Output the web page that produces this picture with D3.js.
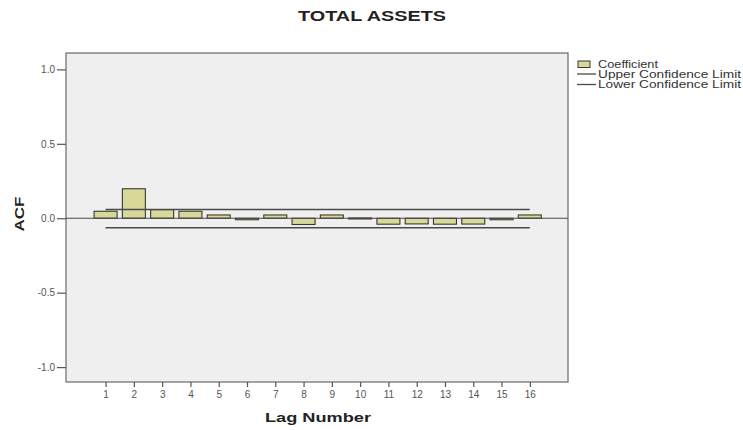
<!DOCTYPE html>
<html>
<head>
<meta charset="utf-8">
<script src="https://cdn.jsdelivr.net/npm/d3@7"></script>
<style>
  html, body { margin: 0; padding: 0; background: #ffffff; }
  svg { display: block; font-family: "Liberation Sans", Arial, sans-serif; }
</style>
</head>
<body>
<svg id="chart" width="743" height="430"></svg>
<script>
// Autocorrelation function of TOTAL ASSETS, lags 1-16
const lags = [1, 2, 3, 4, 5, 6, 7, 8, 9, 10, 11, 12, 13, 14, 15, 16];
const coefficient = [0.047, 0.198, 0.058, 0.047, 0.022, -0.010, 0.022, -0.042, 0.022, 0.002, -0.040, -0.038, -0.040, -0.039, -0.010, 0.022];
const upperLimit = [0.059, 0.059, 0.059, 0.059, 0.059, 0.059, 0.059, 0.059, 0.059, 0.059, 0.059, 0.059, 0.059, 0.059, 0.059, 0.059];
const lowerLimit = [-0.064, -0.064, -0.064, -0.064, -0.064, -0.064, -0.064, -0.064, -0.064, -0.064, -0.064, -0.064, -0.064, -0.064, -0.064, -0.064];
const yTicks = [-1.0, -0.5, 0.0, 0.5, 1.0];
const legendLabels = ["Coefficient", "Upper Confidence Limit", "Lower Confidence Limit"];

const svg = d3.select("#chart");
const plot = { left: 66, right: 568, top: 53, bottom: 382 };

const x = d3.scaleLinear().domain([-0.4, 17.35]).range([plot.left, plot.right]);
const y = d3.scaleLinear().domain([-1.1, 1.11]).range([plot.bottom, plot.top]);
const barW = 23;

// plot background and frame
svg.append("rect")
  .attr("x", plot.left).attr("y", plot.top)
  .attr("width", plot.right - plot.left).attr("height", plot.bottom - plot.top)
  .attr("fill", "#efefef").attr("stroke", "#6a6a6a").attr("stroke-width", 1.2);

// axes
const yAxis = d3.axisLeft(y).tickValues(yTicks).tickFormat(d3.format(".1f")).tickSize(9).tickPadding(2);
const gy = svg.append("g").attr("transform", `translate(${plot.left},0)`).call(yAxis);
gy.select(".domain").remove();
gy.selectAll("line").attr("stroke", "#555").attr("stroke-width", 1.2);
gy.selectAll("text").attr("font-size", 10).attr("fill", "#555").text(d => d3.format(".1f")(d).replace("−", "-"));

const xAxis = d3.axisBottom(x).tickValues(lags).tickFormat(d3.format("d")).tickSize(5).tickPadding(4);
const gx = svg.append("g").attr("transform", `translate(0,${plot.bottom})`).call(xAxis);
gx.select(".domain").remove();
gx.selectAll("line").attr("stroke", "#555").attr("stroke-width", 1.2);
gx.selectAll("text").attr("font-size", 10).attr("fill", "#555");

// coefficient bars
svg.append("g").selectAll("rect")
  .data(lags.map((l, i) => ({ lag: l, v: coefficient[i] })))
  .join("rect")
  .attr("x", d => x(d.lag) - barW / 2)
  .attr("y", d => Math.min(y(d.v), y(0)))
  .attr("width", barW)
  .attr("height", d => Math.max(1, Math.abs(y(d.v) - y(0))))
  .attr("fill", "#d9d89b")
  .attr("stroke", "#3a3a2a")
  .attr("stroke-width", 1.1);

// zero reference line
svg.append("line")
  .attr("x1", plot.left).attr("x2", plot.right)
  .attr("y1", y(0)).attr("y2", y(0))
  .attr("stroke", "#4a4a4a").attr("stroke-width", 1.2);

// confidence limits
const limitLine = d3.line().x((d, i) => x(lags[i])).y(d => y(d));
[upperLimit, lowerLimit].forEach(s => {
  svg.append("path")
    .attr("d", limitLine(s))
    .attr("fill", "none")
    .attr("stroke", "#4a4a4a")
    .attr("stroke-width", 1.4);
});

// title
svg.append("text")
  .attr("x", 372).attr("y", 21)
  .attr("text-anchor", "middle")
  .attr("font-size", 14).attr("font-weight", "bold").attr("fill", "#222")
  .attr("textLength", 148).attr("lengthAdjust", "spacingAndGlyphs")
  .text("TOTAL ASSETS");

// axis titles
svg.append("text")
  .attr("x", 318).attr("y", 422)
  .attr("text-anchor", "middle")
  .attr("font-size", 13).attr("font-weight", "bold").attr("fill", "#222")
  .attr("textLength", 106).attr("lengthAdjust", "spacingAndGlyphs")
  .text("Lag Number");

svg.append("text")
  .attr("transform", "translate(24,214) rotate(-90)")
  .attr("text-anchor", "middle")
  .attr("font-size", 13).attr("font-weight", "bold").attr("fill", "#222")
  .attr("textLength", 35).attr("lengthAdjust", "spacingAndGlyphs")
  .text("ACF");

// legend
const lg = svg.append("g");
lg.append("rect")
  .attr("x", 578).attr("y", 61).attr("width", 12).attr("height", 6.5)
  .attr("fill", "#d9d89b").attr("stroke", "#3a3a2a").attr("stroke-width", 1);
[74, 84.5].forEach(ly => {
  lg.append("line")
    .attr("x1", 577).attr("x2", 596).attr("y1", ly).attr("y2", ly)
    .attr("stroke", "#4a4a4a").attr("stroke-width", 1.3);
});
const legendY = [67.5, 77.5, 88];
const legendW = [60, 143, 143];
legendLabels.forEach((t, i) => {
  lg.append("text")
    .attr("x", 598).attr("y", legendY[i])
    .attr("font-size", 10).attr("fill", "#333")
    .attr("textLength", legendW[i]).attr("lengthAdjust", "spacingAndGlyphs")
    .text(t);
});
</script>
</body>
</html>
